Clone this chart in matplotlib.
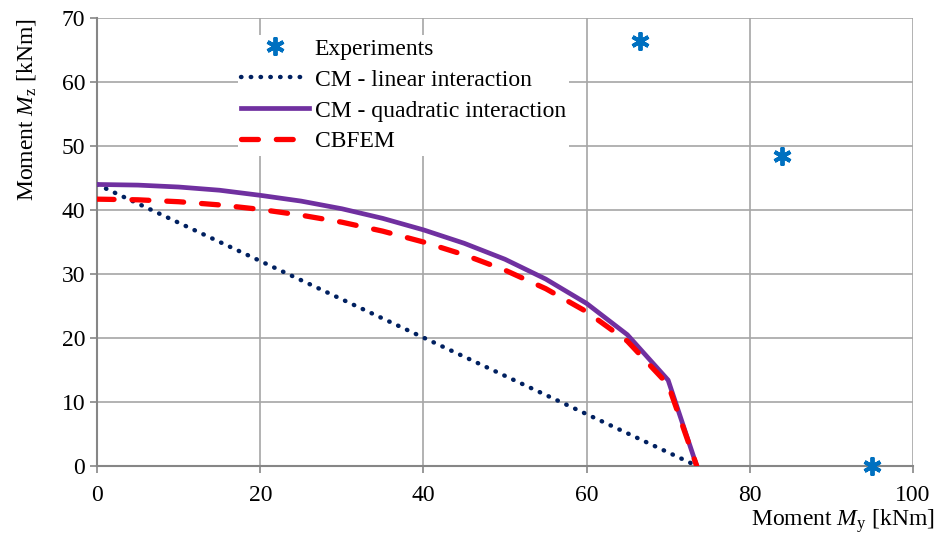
import matplotlib.pyplot as plt
import numpy as np

plt.rcParams['font.family'] = ['Liberation Serif', 'DejaVu Serif']
plt.rcParams['mathtext.fontset'] = 'custom'
plt.rcParams['mathtext.rm'] = 'Liberation Serif'
plt.rcParams['mathtext.it'] = 'Liberation Serif:italic'

# Experimental results
exp_my = [66.5, 84.0, 95.0]
exp_mz = [66.5, 48.5, 0.0]

# Component method - linear interaction
lin_my = [0.0, 73.5]
lin_mz = [44.0, 0.0]

# Component method - quadratic interaction
quad_my = [0, 5, 10, 15, 20, 25, 30, 35, 40, 45, 50, 55, 60, 65, 70, 73.5]
quad_mz = [44.0, 43.9, 43.6, 43.1, 42.3, 41.4, 40.2, 38.7, 36.9, 34.8, 32.3, 29.2, 25.4, 20.5, 13.4, 0.0]

# CBFEM
fem_my = [0, 5, 10, 15, 20, 25, 30, 35, 40, 45, 50, 55, 60, 65, 70, 73.5]
fem_mz = [41.7, 41.6, 41.3, 40.8, 40.1, 39.2, 38.1, 36.7, 35.0, 33.0, 30.6, 27.7, 24.1, 19.5, 12.7, 0.0]

fig, ax = plt.subplots(figsize=(9.43, 5.36), dpi=100)
fig.subplots_adjust(left=0.103, right=0.968, top=0.966, bottom=0.131)

ax.plot(lin_my, lin_mz, color='#002060', lw=3.2, linestyle=(0, (0.1, 2.1)),
        dash_capstyle='round', label='CM - linear interaction', zorder=3)
ax.plot(quad_my, quad_mz, color='#7030A0', lw=3.4, label='CM - quadratic interaction', zorder=4)
ax.plot(fem_my, fem_mz, color='#FF0000', lw=3.8, linestyle=(0, (3.2, 3.4)),
        dash_capstyle='round', label='CBFEM', zorder=5)
ax.plot(exp_my, exp_mz, linestyle='none', marker=(6, 2, 0), markersize=13,
        mew=2.8, color='#0070C0', label='Experiments', zorder=6, clip_on=False)

ax.set_xlim(0, 100)
ax.set_ylim(0, 70)
ax.set_xticks(np.arange(0, 101, 20))
ax.set_yticks(np.arange(0, 71, 10))
ax.grid(True, color='#A6A6A6', lw=1.2)
ax.set_axisbelow(True)
for s in ['top', 'right']:
    ax.spines[s].set_visible(False)
for s in ['left', 'bottom']:
    ax.spines[s].set_color('#868686')
    ax.spines[s].set_linewidth(1.5)
ax.tick_params(colors='#868686', labelcolor='black', labelsize=17, length=5, width=1.2)
ax.tick_params(axis='x', pad=9)

ax.set_ylabel(r'Moment $M_\mathrm{z}$ [kNm]', fontsize=17)
ax.yaxis.set_label_coords(-0.073, 0.795)
ax.set_xlabel(r'Moment $M_\mathrm{y}$ [kNm]', fontsize=17)
ax.xaxis.set_label_coords(1.027, -0.093)
ax.xaxis.label.set_horizontalalignment('right')

handles, labels = ax.get_legend_handles_labels()
order = [3, 0, 1, 2]
leg = ax.legend([handles[i] for i in order], [labels[i] for i in order],
                loc='upper left', bbox_to_anchor=(0.158, 0.99), fontsize=17,
                frameon=True, handlelength=2.85, handletextpad=0.25,
                labelspacing=0.4, borderpad=0.15)
leg.get_frame().set_edgecolor('none')
leg.get_frame().set_facecolor('white')
leg.get_frame().set_alpha(1)

fig.savefig('out.png', dpi=100)
